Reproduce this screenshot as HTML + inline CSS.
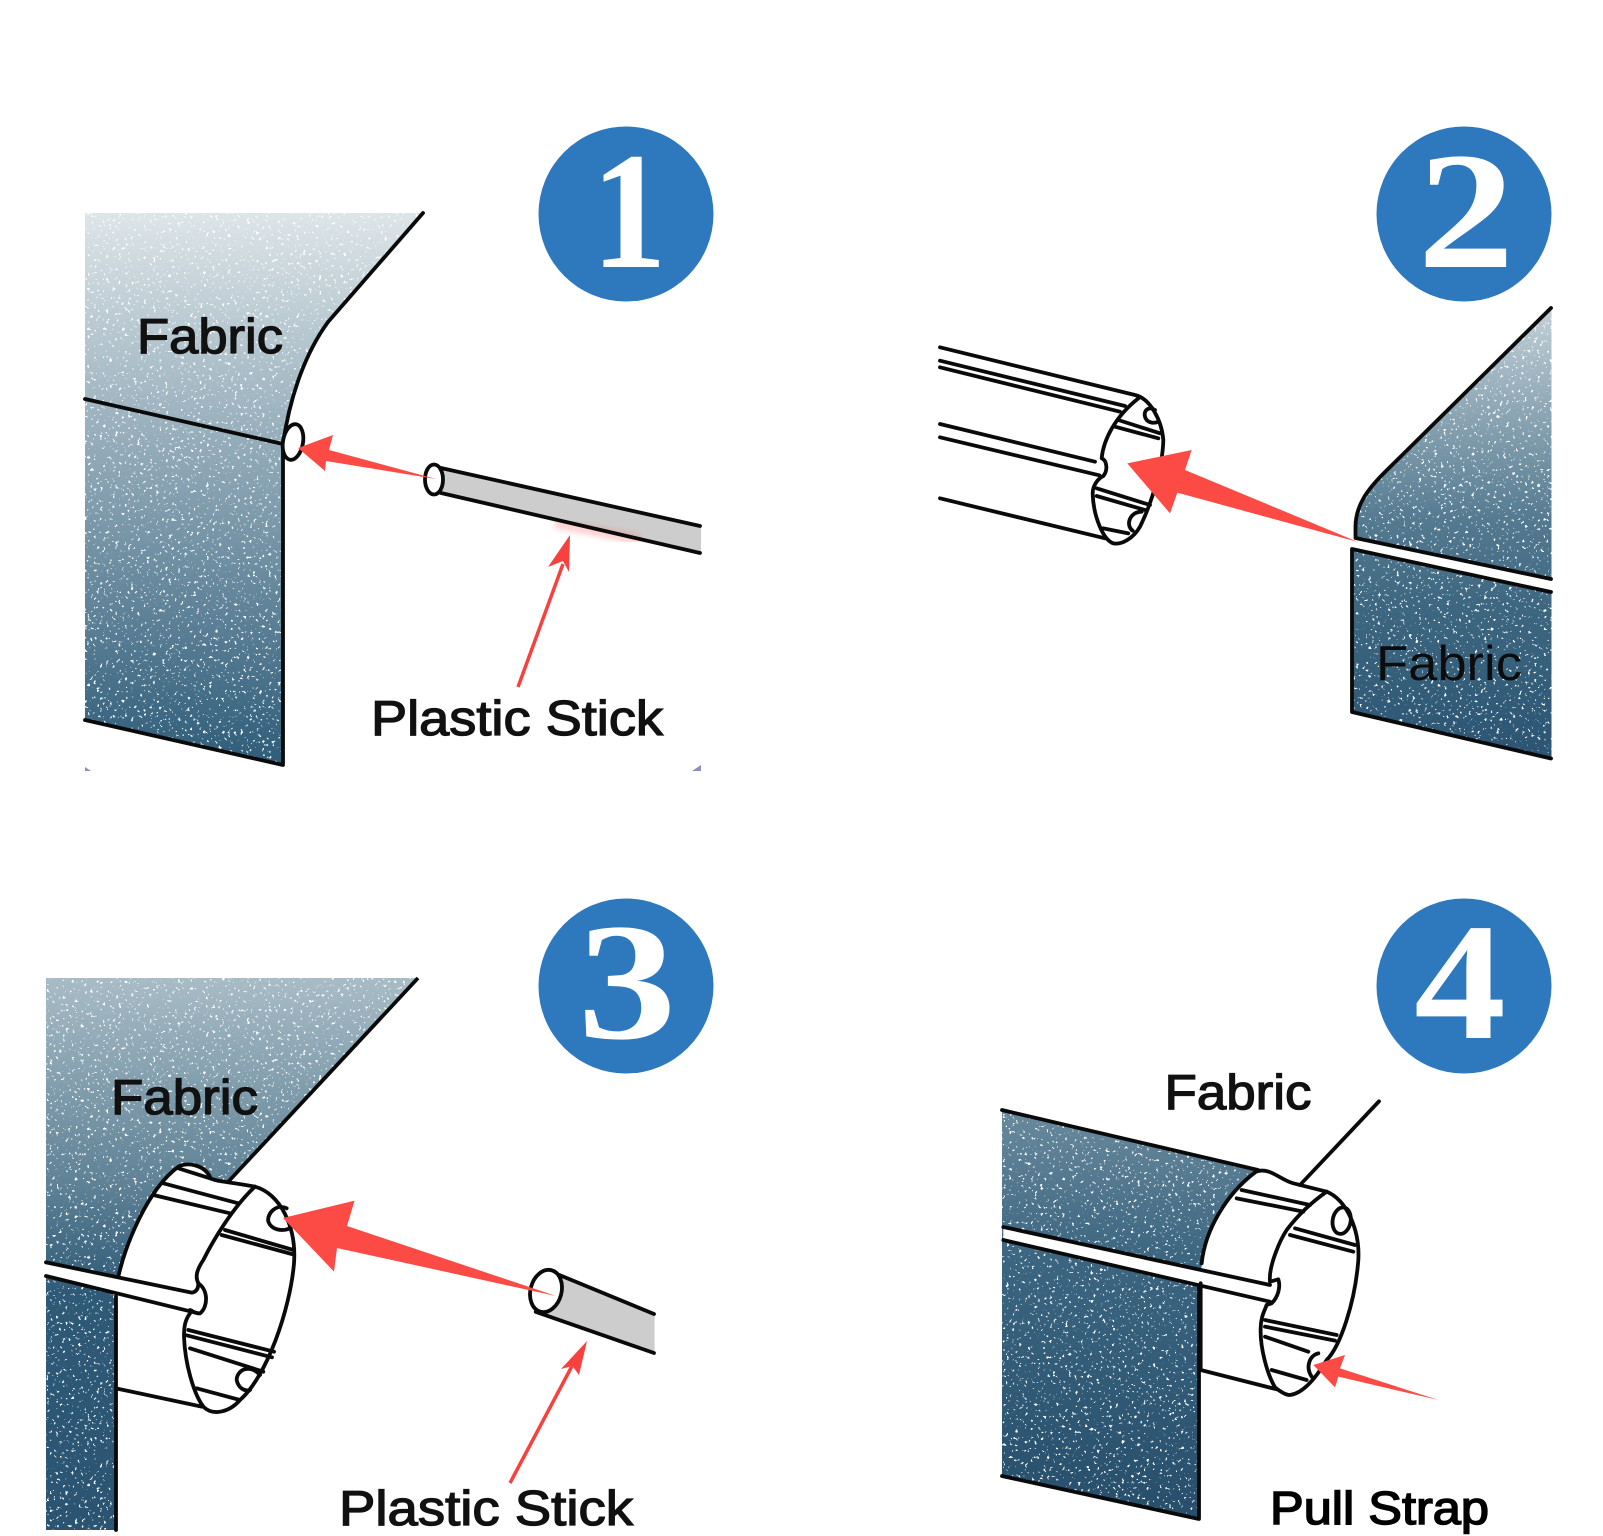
<!DOCTYPE html>
<html lang="en">
<head>
<meta charset="utf-8">
<title>Fabric installation steps</title>
<style>
html,body{margin:0;padding:0;background:#fff;width:1603px;height:1536px;overflow:hidden}
svg{display:block}
.l{fill:none;stroke:#0a0a0a;stroke-width:3.800;stroke-linecap:round;stroke-linejoin:round}
.z{vector-effect:non-scaling-stroke}
.lab{font-family:"Liberation Sans",Arial,sans-serif;font-size:49px;fill:#111;stroke:#111;stroke-width:1.300px}
.num{font-family:"Liberation Serif",serif;font-weight:700;font-size:167px;fill:#fff;text-anchor:middle}
</style>
</head>
<body>
<svg width="1603" height="1536" viewBox="0 0 1603 1536" xmlns="http://www.w3.org/2000/svg">
<defs>
<filter id="sp" x="0" y="0" width="1" height="1" color-interpolation-filters="sRGB">
<feTurbulence type="fractalNoise" baseFrequency="0.32" numOctaves="2" seed="7" result="n"/>
<feColorMatrix in="n" type="matrix" values="0 0 0 0 1 0 0 0 0 1 0 0 0 0 1 18 0 0 0 -11.900" result="w"/>
<feComposite in="w" in2="SourceGraphic" operator="in" result="s"/>
<feMerge><feMergeNode in="SourceGraphic"/><feMergeNode in="s"/></feMerge>
</filter>
<filter id="bl"><feGaussianBlur stdDeviation="3"/></filter>
<linearGradient id="g1" gradientUnits="userSpaceOnUse" x1="0" y1="213" x2="0" y2="765"><stop offset="0" stop-color="#dde5e8"/><stop offset="1" stop-color="#2e5c79"/></linearGradient>
<linearGradient id="g2" gradientUnits="userSpaceOnUse" x1="0" y1="307" x2="0" y2="760"><stop offset="0" stop-color="#c4d1d8"/><stop offset=".47" stop-color="#547a90"/><stop offset=".65" stop-color="#3e6781"/><stop offset="1" stop-color="#2a5472"/></linearGradient>
<linearGradient id="g3" gradientUnits="userSpaceOnUse" x1="0" y1="978" x2="0" y2="1530"><stop offset="0" stop-color="#a8bcc6"/><stop offset=".37" stop-color="#5f8296"/><stop offset=".57" stop-color="#2f5a77"/><stop offset="1" stop-color="#2a5472"/></linearGradient>
<linearGradient id="g4" gradientUnits="userSpaceOnUse" x1="0" y1="1110" x2="0" y2="1500"><stop offset="0" stop-color="#6a8a9d"/><stop offset=".38" stop-color="#3b6580"/><stop offset="1" stop-color="#28506d"/></linearGradient>
</defs>

<!-- circles -->
<circle cx="626" cy="214" r="87.500" fill="#2e79bd"/>
<circle cx="1464" cy="214" r="87.500" fill="#2e79bd"/>
<circle cx="626" cy="986" r="87.500" fill="#2e79bd"/>
<circle cx="1464" cy="986" r="87.500" fill="#2e79bd"/>
<text class="num" transform="translate(629,267) scale(.9,1)">1</text>
<text class="num" transform="translate(1466,267) scale(1.16,1)">2</text>
<text class="num" transform="translate(627,1038) scale(1.18,1)">3</text>
<text class="num" transform="translate(1460,1038) scale(1.1,1)">4</text>

<!-- PANEL 1 -->
<path d="M85,213 L423,213 L328,322 C306,352 290,395 283,444 L283,765 L85,720 Z" fill="url(#g1)" filter="url(#sp)"/>
<path class="l" d="M423,213 L328,322 C306,352 290,395 283,444"/>
<path class="l" d="M85,399 L283,444 L283,765 L85,720"/>
<ellipse cx="293" cy="442" rx="10" ry="18" transform="rotate(10 293 442)" fill="#fff" stroke="#0a0a0a" stroke-width="3.800"/>
<polygon points="441,468 701,526 701,553 441,493" fill="#cdcdcd"/>
<path d="M555,523 L640,540" stroke="#ff5a5a" stroke-width="10" opacity=".28" filter="url(#bl)"/>
<path class="l" d="M441,468 L700,526 M441,493 L700,553" stroke-linecap="butt"/>
<ellipse cx="434" cy="479.500" rx="9" ry="15" fill="#fff" stroke="#0a0a0a" stroke-width="3.800"/>
<polygon points="298,448 333,435 329,450 436,479 326,461 325,471" fill="#fc4a45"/>
<line x1="518" y1="687" x2="563" y2="564" stroke="#f7413f" stroke-width="3.500"/>
<polygon points="570,535 548,567 563,561 569,572" fill="#f7413f"/>
<text class="lab" x="137" y="353" textLength="146" lengthAdjust="spacingAndGlyphs">Fabric</text>
<text class="lab" x="371" y="735" textLength="292" lengthAdjust="spacingAndGlyphs">Plastic Stick</text>
<path d="M85,767 L85,771 L91,771 Z" fill="#8a8fc0"/>
<path d="M701,765 L701,771 L692,771 Z" fill="#8a8fc0"/>

<!-- PANEL 2 -->
<path d="M1551.500,307.500 L1384,473 C1366,491 1356,506 1355.500,526 L1355.500,538 L1551.500,579 Z" fill="url(#g2)" filter="url(#sp)"/>
<path d="M1352,549 L1551.500,592 L1551.500,758.500 L1352,712 Z" fill="url(#g2)" filter="url(#sp)"/>
<path class="l" d="M1551,308 L1384,473 C1366,491 1356,506 1355.500,526 L1355.500,538 L1551,579"/>
<path class="l" d="M1551,592 L1352,549 L1352,712 L1551,758.500"/>
<g transform="translate(1040,370) scale(.33333)">
<path class="l z" d="M-300,-68 L285,75 C330,85 365,150 370,210 C368,290 335,400 300,470 C280,505 245,525 220,520 C190,510 160,440 158,370 C158,345 175,325 190,318 C205,300 200,270 185,265 C190,210 225,140 295,85"/>
<path class="l z" d="M-300,-28 L255,108 M-300,-8 L240,125 M-300,162 L165,275 M-300,202 L178,316 M-300,385 L195,505"/>
<path class="l z" d="M235,150 L360,190 M225,170 L355,205 M170,355 L330,405 M170,378 L315,420 M190,475 L265,490"/>
<path class="l z" d="M345,120 C320,105 305,130 320,150 C330,160 345,160 355,155"/>
<path class="l z" d="M305,425 C270,425 255,465 278,482"/>
<polygon points="262,280 455,240 435,300 954,516 412,368 390,430" fill="#fc4a45"/>
</g>
<text x="1376" y="680" textLength="146" lengthAdjust="spacingAndGlyphs" style="font-family:'Liberation Sans',Arial,sans-serif;font-size:49px;fill:#0c0c0c">Fabric</text>

<!-- PANEL 3 -->
<path d="M46,978 L418,978 L228,1182 L150,1285 L46,1262 Z" fill="url(#g3)" filter="url(#sp)"/>
<path d="M46,1276 L116,1292 L116,1530 L46,1530 Z" fill="url(#g3)" filter="url(#sp)"/>
<line x1="418" y1="978" x2="228" y2="1182" stroke="#0a0a0a" stroke-width="3.800"/>
<g transform="translate(90,1150) scale(.33333)">
<path d="M85,380 C105,290 170,120 265,50 C295,35 345,45 362,85 C380,95 415,95 495,110 C570,130 620,230 612,340 C600,480 530,680 450,750 C420,785 370,800 340,770 L78,715 L78,400 Z" fill="#fff"/>
<path d="M-132,337 L305,428 L345,410 L350,480 L325,492 L-132,378 Z" fill="#fff"/>
<path class="l z" d="M85,380 C105,290 170,120 265,50 C295,35 345,45 362,85 C380,95 415,95 495,110 C570,130 620,230 612,340 C600,480 530,680 450,750 C420,785 370,800 340,770 C310,730 285,640 282,560 C282,530 285,510 300,490"/>
<path class="l z" d="M495,110 C430,170 370,270 340,330 C320,360 315,380 325,400 C355,420 355,470 330,490 C315,492 305,480 300,480"/>
<path class="l z" d="M-132,337 L305,428 Q325,425 325,400 M-132,378 L325,490"/>
<path class="l z" d="M78,440 L78,1140 M78,715 L335,770"/>
<path class="l z" d="M220,100 L445,160 M190,135 L420,190 M405,240 L610,300 M395,255 L605,312 M295,540 L552,605 M290,556 L546,622 M300,595 L520,665 M320,715 L450,750 M265,55 L360,85"/>
<path class="l z" d="M590,175 C560,160 530,190 535,215 C545,240 575,245 600,235"/>
<path class="l z" d="M510,675 C480,640 440,660 440,690 C445,715 465,725 480,720"/>
</g>
<polygon points="553.600,1272.600 654.600,1314 654.600,1353.600 535.700,1311.800" fill="#cdcdcd"/>
<path class="l" d="M553.600,1272.600 L654,1314 M535.700,1311.800 L654,1353" stroke-linecap="butt"/>
<ellipse cx="546" cy="1291" rx="15.500" ry="21.500" transform="rotate(15 546 1291)" fill="#fff" stroke="#0a0a0a" stroke-width="3.800"/>
<polygon points="283,1218 354.600,1200.600 347,1226 556,1296 337,1248 334,1271.600" fill="#fc4a45"/>
<line x1="510" y1="1483" x2="572" y2="1366" stroke="#f7413f" stroke-width="3.500"/>
<polygon points="587,1341 561,1369 572.500,1366 579,1375" fill="#f7413f"/>
<text class="lab" x="111" y="1114" textLength="147" lengthAdjust="spacingAndGlyphs">Fabric</text>
<text class="lab" x="339" y="1525" textLength="294" lengthAdjust="spacingAndGlyphs">Plastic Stick</text>

<!-- PANEL 4 -->
<path d="M1002,1110 L1258,1170 C1225,1195 1204,1235 1199,1285 L1002,1240 Z" fill="url(#g4)" filter="url(#sp)"/>
<path d="M1002,1240 L1199,1285 L1199,1519 L1002,1476 Z" fill="url(#g4)" filter="url(#sp)"/>
<path class="l" d="M1002,1110 L1258,1170 M1002,1476 L1199,1519 L1199,1286"/>
<g transform="translate(1170,1150) scale(.33333)">
<path d="M95,340 C105,240 170,130 258,65 C300,50 330,90 370,100 L470,125 C530,150 570,240 565,330 C555,460 510,590 470,630 C440,680 400,730 360,735 C345,735 325,720 315,715 L90,660 Z" fill="#fff"/>
<path d="M-500,231 L300,405 L325,390 L330,440 L305,462 L-500,270 Z" fill="#fff"/>
<path class="l z" d="M95,340 C105,240 170,130 258,65 C300,50 330,90 370,100 L470,125 C530,150 570,240 565,330 C555,460 510,590 470,630 C440,680 400,730 360,735 C345,735 325,720 315,712 C290,670 270,590 272,535 C272,500 285,480 290,465"/>
<path class="l z" d="M470,125 C420,160 380,200 350,240 C330,270 295,350 300,395 L325,388 C332,410 325,440 305,460 L290,465"/>
<path class="l z" d="M-500,231 L300,405 M-500,270 L300,455 M92,400 L92,660 L320,718 M390,105 L627,-146"/>
<path class="l z" d="M215,120 L420,165 M200,145 L400,185 M375,235 L555,285 M360,255 L550,305 M285,510 L500,555 M285,530 L495,572 M285,560 L415,605 M305,660 L410,690"/>
<ellipse class="z" cx="515" cy="212" rx="27" ry="40" transform="rotate(10 515 212)" fill="none" stroke="#0a0a0a" stroke-width="3.800"/>
<path class="l z" d="M445,610 C420,615 405,650 425,680"/>
<polygon points="430,645 525,615 510,655 805,750 505,680 495,712" fill="#fc4a45"/>
</g>
<text class="lab" x="1164.500" y="1109" textLength="147" lengthAdjust="spacingAndGlyphs">Fabric</text>
<text x="1270" y="1524" textLength="219" lengthAdjust="spacingAndGlyphs" style="font-family:'Liberation Sans',Arial,sans-serif;font-size:46px;fill:#000;stroke:#000;stroke-width:1.500px">Pull Strap</text>
</svg>
</body>
</html>
